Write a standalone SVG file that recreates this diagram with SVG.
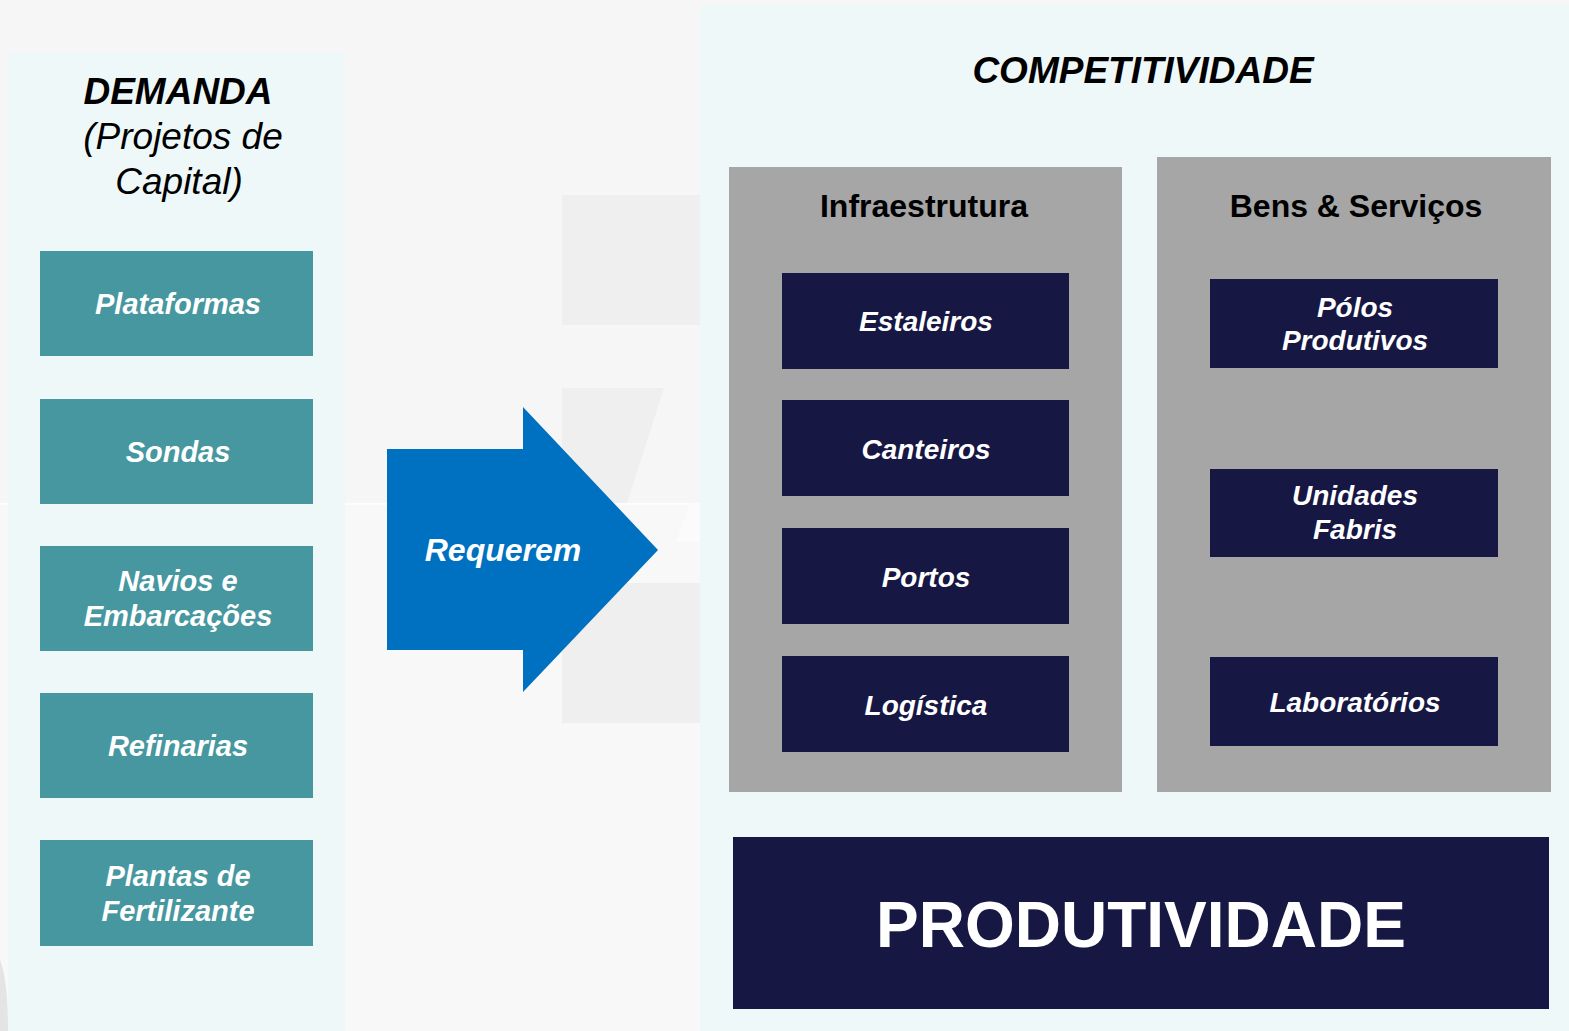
<svg xmlns="http://www.w3.org/2000/svg" width="1569" height="1031" viewBox="0 0 1569 1031">
<style>
.t{font-family:"Liberation Sans",Arial,sans-serif;text-anchor:middle}
.bi{font-weight:bold;font-style:italic}
.w{fill:#ffffff}
.teal{fill:#46979f}
.navy{fill:#171744}
.grey{fill:#a6a6a6}
.panel{fill:#eff8f9}
</style>
<rect x="0" y="0" width="1569" height="1031" fill="#f6f6f6"/>
<rect x="0" y="504" width="1569" height="527" fill="#f8f8f8"/>
<line x1="0" y1="504" x2="700" y2="504" stroke="#ffffff" stroke-width="1.5"/>
<g id="background-shapes" fill="#efefef">
<rect x="562" y="195" width="138" height="130"/>
<polygon points="562,388 664,388 627,503 562,503"/>
<polygon points="690,503 700,503 700,542 676,542" fill="#fbfbfb"/>
<rect x="562" y="583" width="138" height="140"/>
<path d="M0,960 Q8,980 8,1031 L0,1031 Z" fill="#e4e4e4"/>
</g>
<g id="demanda-panel">
<rect class="panel" x="8" y="52" width="337" height="979"/>
<text class="t bi" x="178" y="104" font-size="37">DEMANDA</text>
<text class="t" x="183" y="149" font-size="37" font-style="italic">(Projetos de</text>
<text class="t" x="179" y="194" font-size="37" font-style="italic">Capital)</text>
</g>
<g id="plataformas"><rect class="teal" x="40" y="251" width="273" height="105"/><text class="t bi w" x="178" y="314" font-size="29">Plataformas</text></g>
<g id="sondas"><rect class="teal" x="40" y="399" width="273" height="105"/><text class="t bi w" x="178" y="462" font-size="29">Sondas</text></g>
<g id="navios"><rect class="teal" x="40" y="546" width="273" height="105"/><text class="t bi w" x="178" y="591" font-size="29">Navios e</text><text class="t bi w" x="178" y="626" font-size="29">Embarcações</text></g>
<g id="refinarias"><rect class="teal" x="40" y="693" width="273" height="105"/><text class="t bi w" x="178" y="756" font-size="29">Refinarias</text></g>
<g id="plantas"><rect class="teal" x="40" y="840" width="273" height="106"/><text class="t bi w" x="178" y="886" font-size="29">Plantas de</text><text class="t bi w" x="178" y="921" font-size="29">Fertilizante</text></g>
<g id="connectors">
<g id="requerem-arrow">
<polygon points="387,449 523,449 523,407 658,550 523,692 523,650 387,650" fill="#0070c0"/>
<text class="t bi w" x="503" y="561" font-size="32">Requerem</text>
</g>
</g>
<g id="competitividade-panel">
<rect class="panel" x="700" y="6" width="869" height="1025"/>
<text class="t bi" x="1143" y="83" font-size="37">COMPETITIVIDADE</text>
</g>
<g id="infraestrutura">
<rect class="grey" x="729" y="167" width="393" height="625"/>
<text class="t" x="924" y="217" font-size="32" font-weight="bold">Infraestrutura</text>
</g>
<g id="bens-servicos">
<rect class="grey" x="1157" y="157" width="394" height="635"/>
<text class="t" x="1356" y="217" font-size="32" font-weight="bold">Bens &amp; Serviços</text>
</g>
<g id="estaleiros"><rect class="navy" x="782" y="273" width="287" height="96"/><text class="t bi w" x="926" y="331" font-size="28">Estaleiros</text></g>
<g id="canteiros"><rect class="navy" x="782" y="400" width="287" height="96"/><text class="t bi w" x="926" y="459" font-size="28">Canteiros</text></g>
<g id="portos"><rect class="navy" x="782" y="528" width="287" height="96"/><text class="t bi w" x="926" y="587" font-size="28">Portos</text></g>
<g id="logistica"><rect class="navy" x="782" y="656" width="287" height="96"/><text class="t bi w" x="926" y="715" font-size="28">Logística</text></g>
<g id="polos"><rect class="navy" x="1210" y="279" width="288" height="89"/><text class="t bi w" x="1355" y="317" font-size="28">Pólos</text><text class="t bi w" x="1355" y="350" font-size="28">Produtivos</text></g>
<g id="unidades"><rect class="navy" x="1210" y="469" width="288" height="88"/><text class="t bi w" x="1355" y="505" font-size="28">Unidades</text><text class="t bi w" x="1355" y="539" font-size="28">Fabris</text></g>
<g id="laboratorios"><rect class="navy" x="1210" y="657" width="288" height="89"/><text class="t bi w" x="1355" y="712" font-size="28">Laboratórios</text></g>
<g id="produtividade"><rect class="navy" x="733" y="837" width="816" height="172"/><text class="t w" x="1141" y="947" font-size="64" font-weight="bold">PRODUTIVIDADE</text></g>
</svg>
